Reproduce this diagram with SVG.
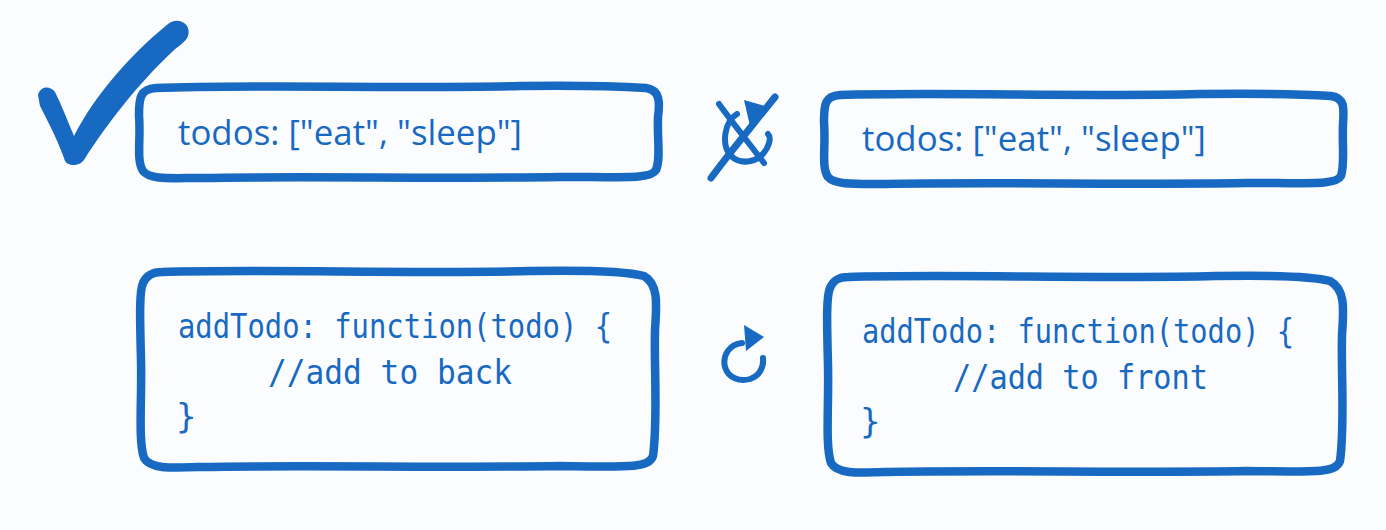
<svg xmlns="http://www.w3.org/2000/svg" width="1386" height="530" viewBox="0 0 1386 530">
<style>
.box{fill:none;stroke:#1769c2;stroke-width:8.5;stroke-linecap:round;stroke-linejoin:round}
.ic{fill:none;stroke:#1769c2;stroke-linecap:round;stroke-linejoin:round}
.fill{fill:#1769c2}
.t{fill:#1769c2;font-family:"Open Sans","Liberation Sans",sans-serif;font-size:34px}
.c{fill:#1769c2;font-family:"DejaVu Sans Mono","Liberation Mono",monospace;font-size:34px}
</style>
<rect width="1386" height="530" fill="#fbfcfd"/>
<g id="check">
<path class="fill" d="M38 95 C40 86 50 85 55 92 C62 106 68 122 74 136 C95 95 130 55 168 24 C178 16 192 24 188 36 C186 42 178 46 172 52 C140 82 108 122 84 160 C80 166 66 168 64 158 C56 136 46 118 40 106 Z"/>
</g>
<g id="no-redo">
<path class="ic" stroke-width="7" d="M711 178 C730 152 752 126 775 97"/>
<path class="ic" stroke-width="6" d="M719 104 C732 122 748 142 764 163"/>
<path class="ic" stroke-width="6" d="M737 114 C724 122 721 145 731 156 C742 166 760 162 767 148 C771 140 770 136 768 134"/>
<path class="fill" d="M744 100 L768 107 L750 126 Z"/>
</g>
<g id="redo">
<path class="ic" stroke-width="6" d="M742 343 C730 344 722 355 725 367 C728 378 740 382 750 379 C759 376 764 368 763 358"/>
<path class="fill" d="M744 325 L764 337 L746 351 Z"/>
</g>
<g id="state-good">
<path class="box" d="M156 88 C250 84 400 89 520 86 C580 85 630 87 646 88 C660 90 660 102 658 117 C657 140 661 158 656 170 C651 179 628 177 560 177 C450 179 300 176 200 178 C170 178 150 180 143 171 C136 160 141 140 139 115 C139 98 140 89 156 88 Z"/>
<text class="t" x="178" y="145" textLength="344" lengthAdjust="spacingAndGlyphs">todos: ["eat", "sleep"]</text>
</g>
<g id="state-bad">
<path class="box" d="M840 95 C940 92 1080 97 1200 94 C1270 93 1315 95 1331 96 C1345 98 1344 108 1343 124 C1342 146 1345 164 1341 176 C1336 185 1314 183 1245 183 C1135 185 985 182 885 184 C855 184 835 185 828 177 C821 167 826 147 824 122 C824 104 825 96 840 95 Z"/>
<text class="t" x="862" y="151" textLength="344" lengthAdjust="spacingAndGlyphs">todos: ["eat", "sleep"]</text>
</g>
<g id="func-back">
<path class="box" d="M162 272 C260 269 420 274 530 271 C590 270 630 272 644 276 C658 284 657 302 655 330 C654 370 658 420 653 456 C649 468 630 467 560 466 C450 468 300 465 200 467 C170 468 150 469 144 458 C138 440 142 400 141 360 C140 320 139 292 143 283 C147 274 154 272 162 272 Z"/>
<text class="c" x="178" y="338" textLength="434" lengthAdjust="spacingAndGlyphs">addTodo: function(todo) {</text>
<text class="c" x="268" y="384" textLength="244" lengthAdjust="spacingAndGlyphs">//add to back</text>
<text class="c" x="176" y="428">}</text>
</g>
<g id="func-front">
<path class="box" d="M848 277 C946 274 1106 279 1216 276 C1276 275 1316 277 1330 281 C1345 289 1344 307 1342 335 C1341 375 1345 425 1340 461 C1336 473 1317 472 1247 471 C1137 473 987 470 887 472 C857 473 837 474 831 463 C825 445 829 405 828 365 C827 325 826 297 830 288 C834 279 840 277 848 277 Z"/>
<text class="c" x="862" y="343" textLength="432" lengthAdjust="spacingAndGlyphs">addTodo: function(todo) {</text>
<text class="c" x="953" y="389" textLength="255" lengthAdjust="spacingAndGlyphs">//add to front</text>
<text class="c" x="860" y="433">}</text>
</g>
<g id="connectors"></g>
</svg>
